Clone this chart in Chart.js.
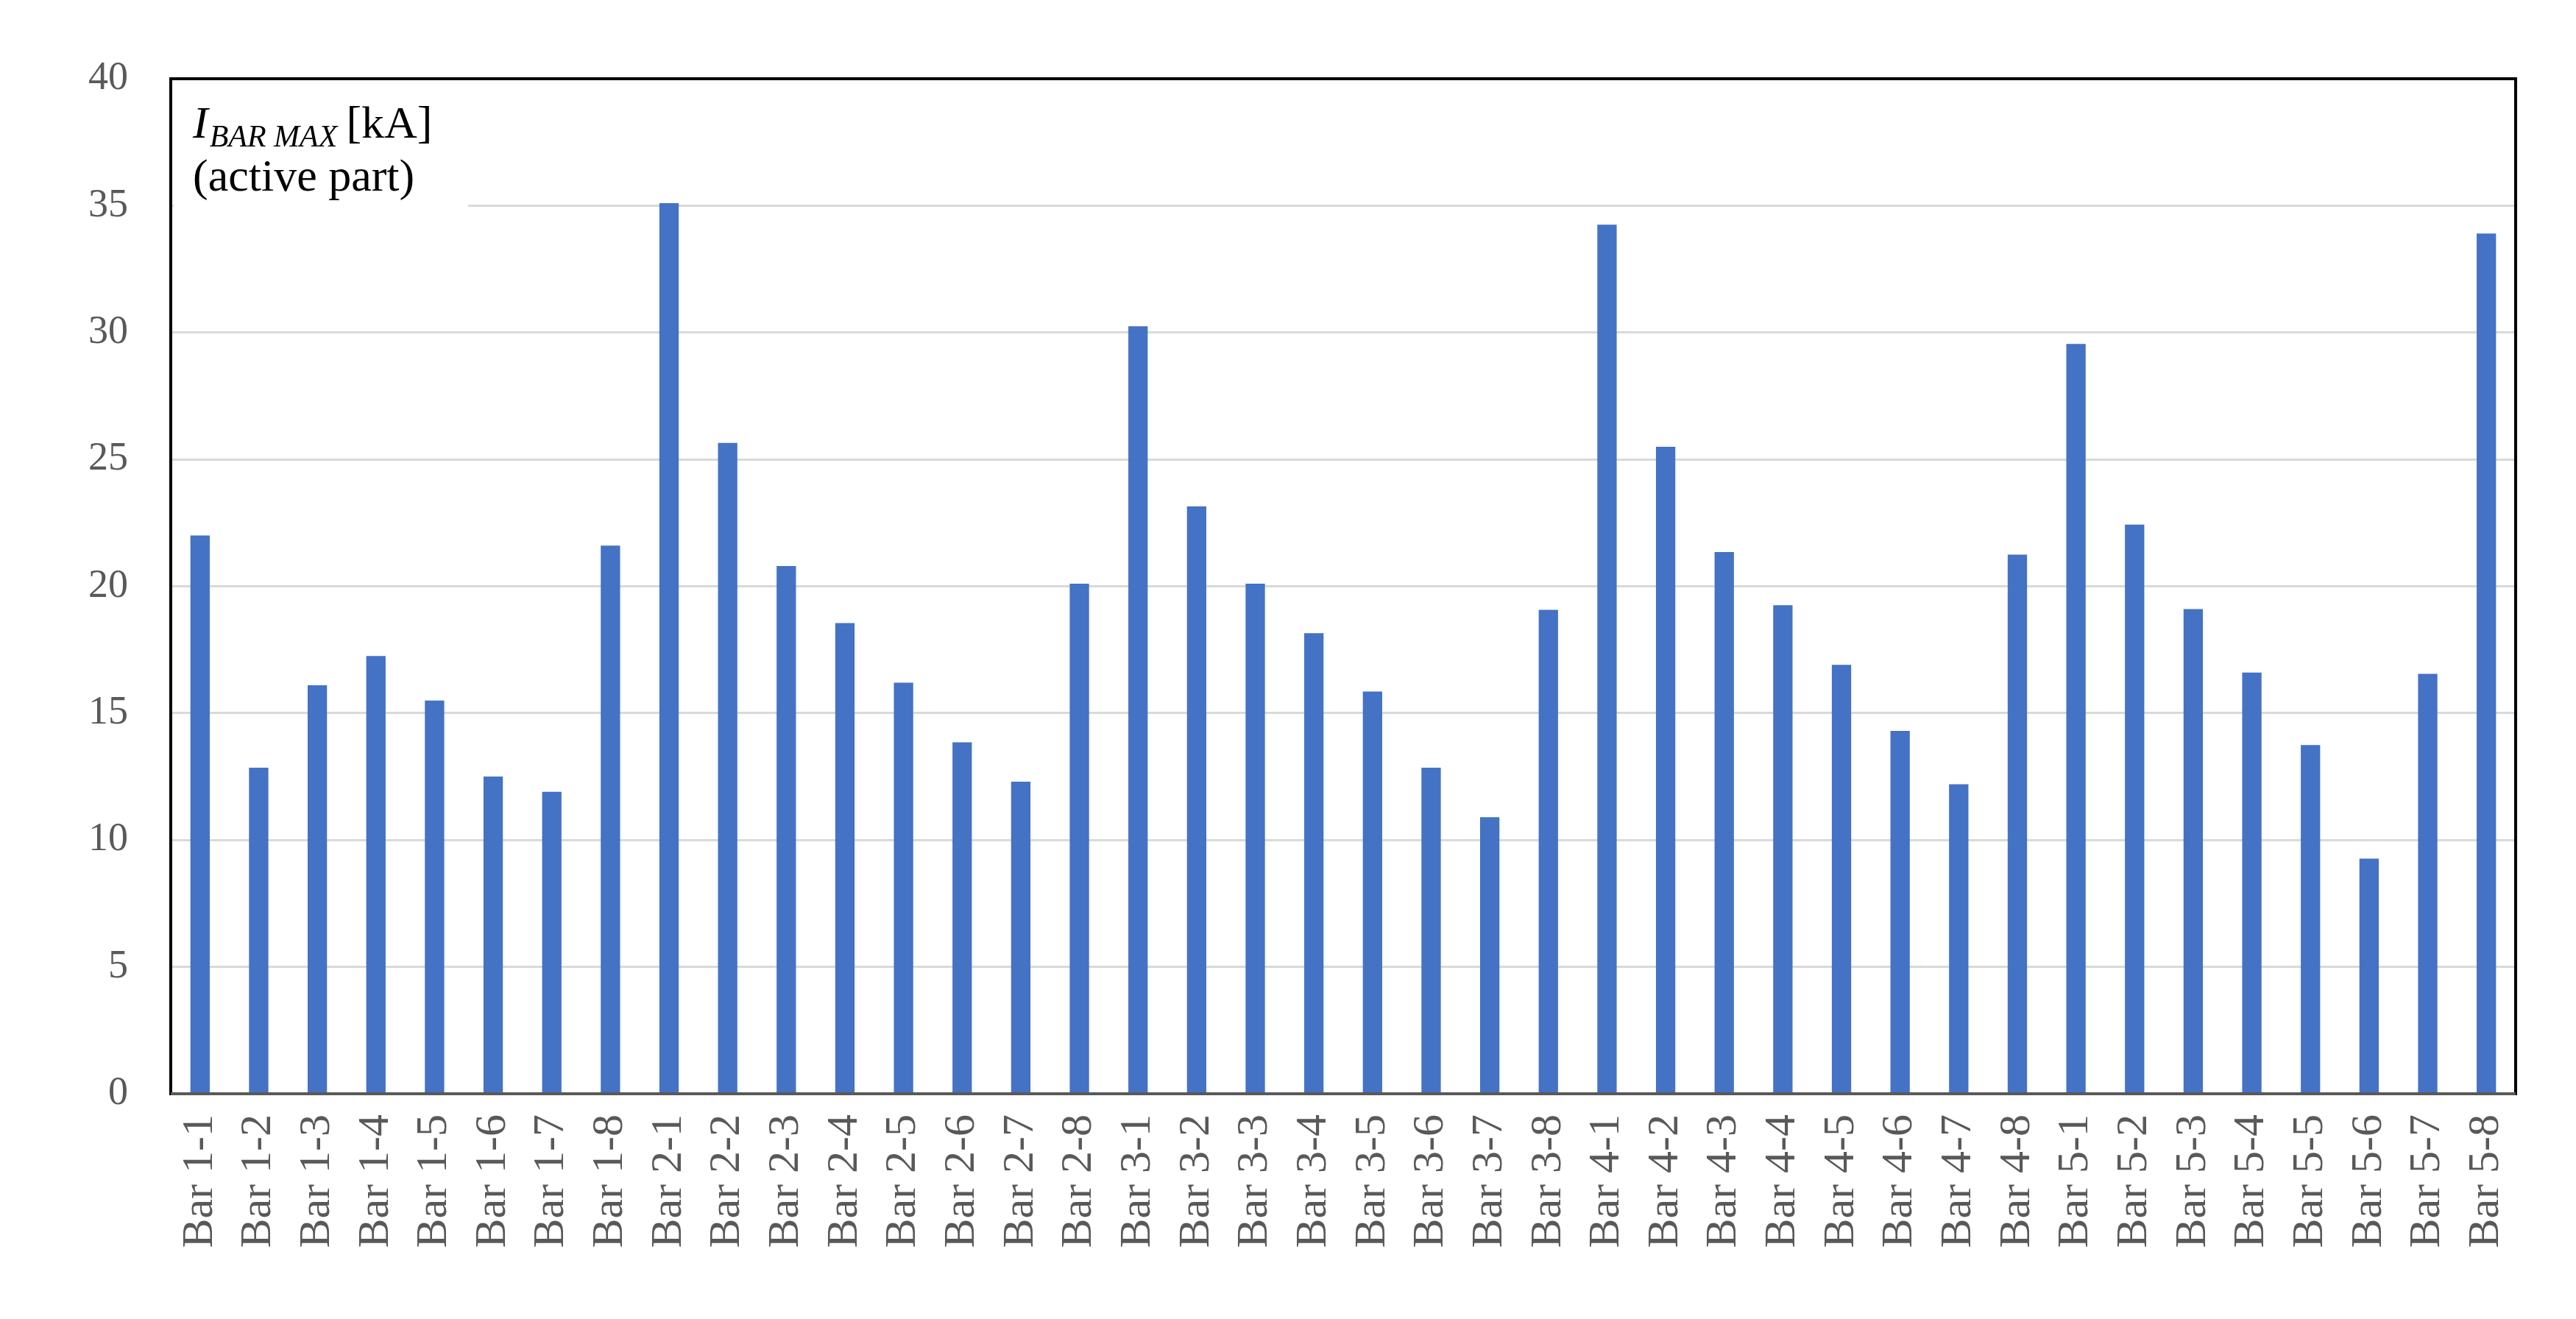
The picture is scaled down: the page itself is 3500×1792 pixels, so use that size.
<!DOCTYPE html>
<html>
<head>
<meta charset="utf-8">
<script src="https://cdn.jsdelivr.net/npm/chart.js@4/dist/chart.umd.min.js"></script>
<style>
  html, body { margin: 0; padding: 0; background: #fff; }
  #wrap { width: 3500px; height: 1792px; }
</style>
</head>
<body>
<div id="wrap"><canvas id="chart" width="3500" height="1792"></canvas></div>
<script>
// Categories: 5 groups x 8 bars
const barLabels = [
  'Bar 1-1', 'Bar 1-2', 'Bar 1-3', 'Bar 1-4', 'Bar 1-5', 'Bar 1-6', 'Bar 1-7', 'Bar 1-8',
  'Bar 2-1', 'Bar 2-2', 'Bar 2-3', 'Bar 2-4', 'Bar 2-5', 'Bar 2-6', 'Bar 2-7', 'Bar 2-8',
  'Bar 3-1', 'Bar 3-2', 'Bar 3-3', 'Bar 3-4', 'Bar 3-5', 'Bar 3-6', 'Bar 3-7', 'Bar 3-8',
  'Bar 4-1', 'Bar 4-2', 'Bar 4-3', 'Bar 4-4', 'Bar 4-5', 'Bar 4-6', 'Bar 4-7', 'Bar 4-8',
  'Bar 5-1', 'Bar 5-2', 'Bar 5-3', 'Bar 5-4', 'Bar 5-5', 'Bar 5-6', 'Bar 5-7', 'Bar 5-8'
];

// I_BAR MAX [kA], active part
const iBarMax = [
  22.0, 12.85, 16.1, 17.25, 15.5, 12.5, 11.9, 21.6,
  35.1, 25.65, 20.8, 18.55, 16.2, 13.85, 12.3, 20.1,
  30.25, 23.15, 20.1, 18.15, 15.85, 12.85, 10.9, 19.07,
  34.25, 25.5, 21.35, 19.25, 16.9, 14.3, 12.2, 21.25,
  29.55, 22.43, 19.1, 16.6, 13.74, 9.27, 16.55, 33.9
];

const yMin = 0, yMax = 40, yStep = 5;

const serif = '"Liberation Serif", "DejaVu Serif", serif';

// Frame around the plot area + label box in the top-left corner
const framePlugin = {
  id: 'frame',
  afterDraw(chart) {
    const { ctx, chartArea: a } = chart;
    ctx.save();
    // white box behind the label (hides part of the 35 gridline)
    ctx.fillStyle = '#fff';
    ctx.fillRect(a.left + 4, a.top + 6, 400, 190);
    ctx.strokeStyle = '#000';
    ctx.lineWidth = 4;
    ctx.strokeRect(a.left, a.top, a.right - a.left, a.bottom - a.top);
    ctx.strokeStyle = '#595959';
    ctx.beginPath();
    ctx.moveTo(a.left, a.bottom);
    ctx.lineTo(a.right, a.bottom);
    ctx.stroke();

    // label text: I_BAR MAX [kA] / (active part)
    ctx.fillStyle = '#000';
    ctx.textBaseline = 'alphabetic';
    let x = a.left + 30;
    const y1 = a.top + 80;
    ctx.font = 'italic 62px ' + serif;
    ctx.fillText('I', x, y1);
    x += ctx.measureText('I').width + 2;
    ctx.font = 'italic 42px ' + serif;
    ctx.fillText('BAR MAX', x, y1 + 12);
    x += ctx.measureText('BAR MAX').width + 12;
    ctx.font = '62px ' + serif;
    ctx.fillText('[kA]', x, y1);
    ctx.fillText('(active part)', a.left + 30, y1 + 72);
    ctx.restore();
  }
};

new Chart(document.getElementById('chart'), {
  type: 'bar',
  data: {
    labels: barLabels,
    datasets: [{
      data: iBarMax,
      backgroundColor: '#4472C4',
      barPercentage: 0.66,
      categoryPercentage: 0.5
    }]
  },
  options: {
    responsive: false,
    animation: false,
    devicePixelRatio: 1,
    layout: { padding: { top: 107, right: 82, bottom: 0, left: 0 } },
    plugins: { legend: { display: false }, tooltip: { enabled: false } },
    scales: {
      x: {
        grid: { display: false },
        border: { display: false },
        ticks: {
          color: '#595959',
          font: { family: serif, size: 60 },
          minRotation: 90,
          maxRotation: 90,
          autoSkip: false,
          padding: 20
        },
        afterFit(scale) { scale.height = 1792 - 1486; }
      },
      y: {
        min: yMin,
        max: yMax,
        grid: { color: '#d9d9d9', lineWidth: 3, drawTicks: false },
        border: { display: false },
        ticks: {
          stepSize: yStep,
          color: '#595959',
          font: { family: serif, size: 54 },
          padding: 58
        },
        afterFit(scale) { scale.width = 232; }
      }
    }
  },
  plugins: [framePlugin]
});
</script>
</body>
</html>
